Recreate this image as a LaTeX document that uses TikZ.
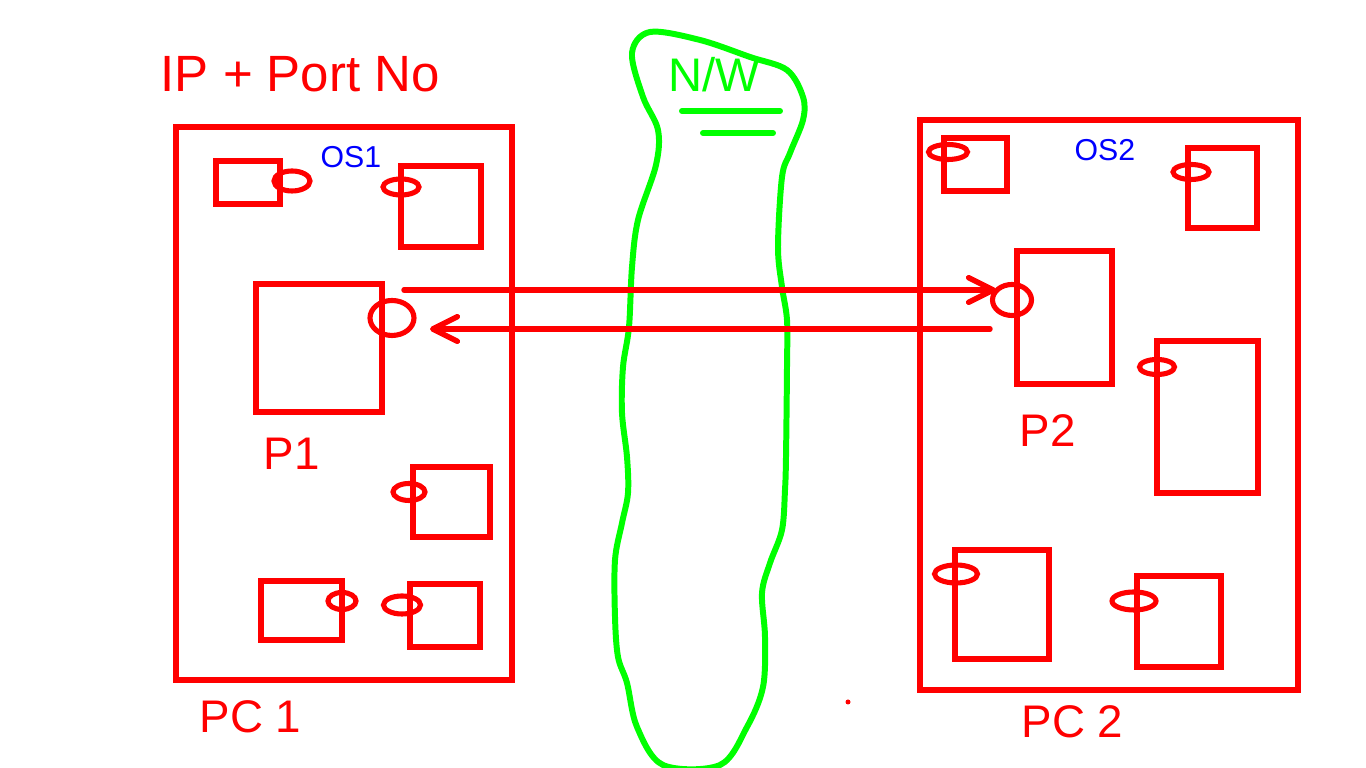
\documentclass[tikz,border=0pt]{standalone}
\usepackage{fontspec}
\setmainfont{Liberation Sans}
\usetikzlibrary{arrows.meta,shapes.geometric}
\definecolor{NetRed}{HTML}{FF0000}
\definecolor{NetGreen}{HTML}{00FF00}
\definecolor{NetBlue}{HTML}{0000FF}

\begin{document}
\begin{tikzpicture}[x=0.01cm,y=-0.01cm,
    pc/.style 2 args={draw=NetRed,line width=1.7pt,inner sep=0pt,
      minimum width=#1*0.01cm,minimum height=#2*0.01cm},
    proc/.style 2 args={draw=NetRed,line width=1.7pt,inner sep=0pt,
      minimum width=#1*0.01cm,minimum height=#2*0.01cm},
    port/.style 2 args={ellipse,draw=NetRed,line width=1.45pt,inner sep=0pt,
      minimum width=#1*0.01cm,minimum height=#2*0.01cm},
    lbl/.style={text=NetRed,inner sep=0pt,anchor=base west,font=\fontsize{13}{15}\selectfont},
    oslbl/.style={text=NetBlue,inner sep=0pt,anchor=base west,font=\fontsize{8.6}{10}\selectfont},
    arrow/.style={-{Straight Barb[length=7pt,width=7pt,round]},line width=1.55pt,draw=NetRed,line cap=round},
    net/.style={draw=NetGreen,line width=1.7pt,line cap=round,line join=round}
  ]
    \fill[white] (0,0) rectangle (1366,768);
    \useasboundingbox (0,0) rectangle (1366,768);

    % network cloud
    \draw[net] plot[smooth cycle,tension=0.55] coordinates {
      (650,32) (700,40) (750,57) (787,70) (803,97) (803,120) (790,153)
      (782,177) (778,247) (782,287) (787,320) (787,367) (786,457) (785,490)
      (782,530) (770,563) (762,593) (765,637) (763,687) (747,727) (720,765)
      (663,765) (637,727) (627,683) (618,657) (615,617) (615,560) (622,523)
      (628,493) (627,457) (622,413) (623,367) (629,327) (632,267) (638,220)
      (656,165) (658,130) (643,97) (632,53)};
    \node[inner sep=0pt,anchor=base west,text=NetGreen,font=\fontsize{13.4}{15}\selectfont] (nw) at (668,92) {N/W};
    \draw[net] (682,111) -- (780,111);
    \draw[net] (703,133) -- (773,133);

    % PC 1
    \node[lbl,font=\fontsize{14.5}{17}\selectfont] (addr) at (160,92) {IP + Port No};
    \node[pc={336}{553}] (pc1) at (344,403.5) {};
    \node[oslbl] (os1) at (320,168) {OS1};
    \node[proc={64}{43}] (a1) at (248,182.5) {};
    \node[proc={80}{81}] (b1) at (441,206.5) {};
    \node[proc={126}{128}] (p1) at (319,348) {};
    \node[proc={77}{70}] (c1) at (451.5,502) {};
    \node[proc={81}{59}] (d1) at (301.5,610.5) {};
    \node[proc={70}{63}] (e1) at (445,615.5) {};
    \node[port={36}{20}] (pa1) at (292,181) {};
    \node[port={36}{16}] (pb1) at (401,187) {};
    \node[port={44}{35}] (port1) at (392,318) {};
    \node[port={32}{17}] (pc1p) at (409,492) {};
    \node[port={28}{17}] (pd1) at (342,601) {};
    \node[port={37}{18}] (pe1) at (402,605) {};
    \node[lbl] (lp1) at (263,470) {P1};
    \node[lbl] (lpc1) at (199,733) {PC 1};

    % PC 2
    \node[pc={378}{570}] (pc2) at (1109,405) {};
    \node[oslbl] (os2) at (1074,161) {OS2};
    \node[proc={63}{53}] (f2) at (975.5,164.5) {};
    \node[proc={69}{80}] (g2) at (1222.5,188) {};
    \node[proc={95}{133}] (p2) at (1064.5,317.5) {};
    \node[proc={101}{152}] (h2) at (1207.5,417) {};
    \node[proc={94}{109}] (i2) at (1002,604.5) {};
    \node[proc={84}{91}] (j2) at (1179,621.5) {};
    \node[port={39}{15}] (pf2) at (948,152) {};
    \node[port={36}{15}] (pg2) at (1191,172) {};
    \node[port={39}{31}] (port2) at (1012,300) {};
    \node[port={35}{15}] (ph2) at (1157,367) {};
    \node[port={43}{18}] (pi2) at (956,574) {};
    \node[port={44}{18}] (pj2) at (1134,601) {};
    \node[lbl] (lp2) at (1019,447) {P2};
    \node[lbl] (lpc2) at (1021,738) {PC 2};

    % messages
    \draw[arrow] ([shift={(12,-28)}]port1.center) -- ([shift={(-16,-10)}]port2.center);
    \draw[arrow] ([shift={(-22,29)}]port2.center) -- ([shift={(38,11)}]port1.center);

    \fill[NetRed] (848,702) circle[radius=2.5];
  \end{tikzpicture}
\end{document}
